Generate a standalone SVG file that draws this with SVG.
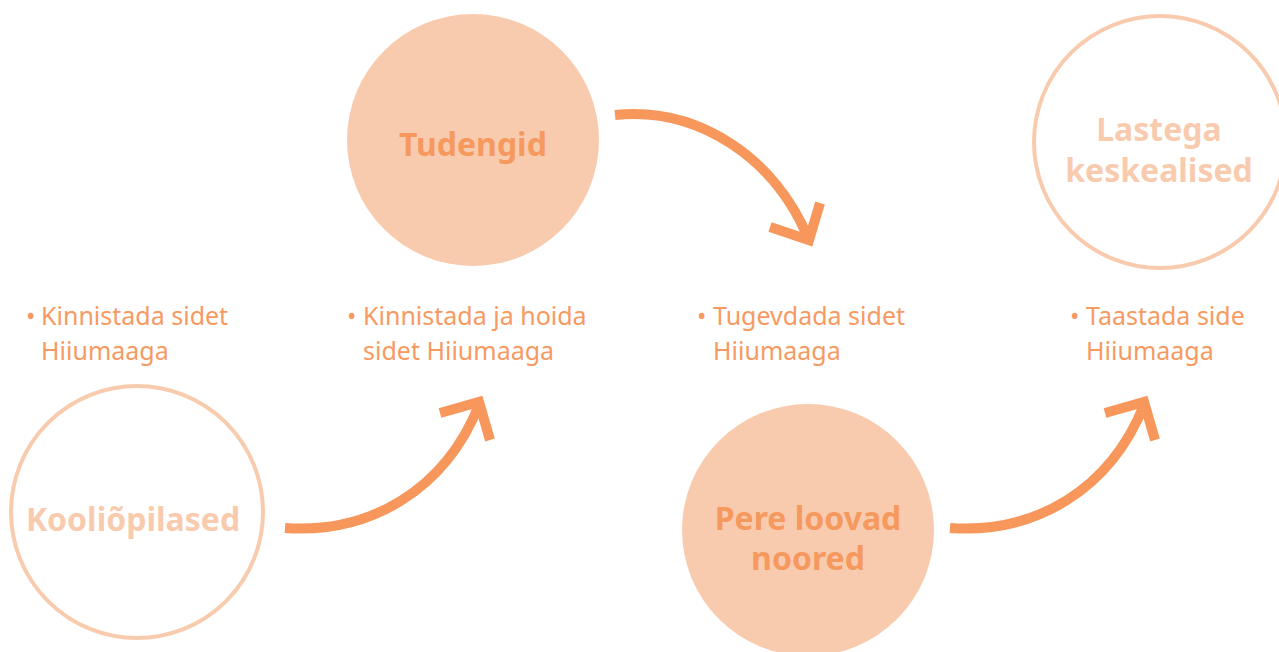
<svg xmlns="http://www.w3.org/2000/svg" width="1279" height="652" viewBox="0 0 1279 652">
<style>
.fill{fill:#F9CBAE}
.ring{fill:none;stroke:#F9CBAE;stroke-width:4}
.t{font-family:"Noto Sans","Open Sans",sans-serif;font-weight:700;font-size:32px;text-anchor:middle}
.dark{fill:#F5995F}
.light{fill:#F9CBAE}
.b{font-family:"Noto Sans","Open Sans",sans-serif;font-size:25px;fill:#F79A62}
.arr{fill:none;stroke:#F7975B;stroke-width:10}
</style>
<rect width="1279" height="652" fill="#fff"/>
<g id="koolipilased">
<circle class="ring" cx="137" cy="512" r="126"/>
<text class="t light" x="133" y="531">Kooliõpilased</text>
</g>
<g id="tudengid">
<circle class="fill" cx="473" cy="140" r="126"/>
<text class="t dark" x="473" y="156">Tudengid</text>
</g>
<g id="pere">
<circle class="fill" cx="808" cy="530" r="126"/>
<text class="t dark" x="808" y="530"><tspan x="808" y="530">Pere loovad</tspan><tspan x="808" y="570">noored</tspan></text>
</g>
<g id="lastega">
<circle class="ring" cx="1160" cy="142" r="126"/>
<text class="t light" x="1159" y="141"><tspan x="1159" y="141">Lastega</tspan><tspan x="1159" y="182">keskealised</tspan></text>
</g>
<g id="bullets">
<text class="b"><tspan x="26" y="325">•</tspan><tspan x="41" y="325">Kinnistada sidet</tspan><tspan x="41" y="359.5">Hiiumaaga</tspan></text>
<text class="b"><tspan x="347" y="325">•</tspan><tspan x="363" y="325">Kinnistada ja hoida</tspan><tspan x="363" y="359.5">sidet Hiiumaaga</tspan></text>
<text class="b"><tspan x="697" y="325">•</tspan><tspan x="713" y="325">Tugevdada sidet</tspan><tspan x="713" y="359.5">Hiiumaaga</tspan></text>
<text class="b"><tspan x="1070" y="325">•</tspan><tspan x="1086" y="325">Taastada side</tspan><tspan x="1086" y="359.5">Hiiumaaga</tspan></text>
</g>
<g id="connectors">
<path class="arr" d="M615,115 C700,106 776,160 808,238"/>
<path class="arr" d="M770,227 L809,240 L820,203"/>
<path class="arr" d="M285,528 C370,534 445,490 479,405"/>
<path class="arr" d="M440,413 L479,402 L490,440"/>
<path class="arr" d="M950,528 C1035,534 1110,490 1144,405"/>
<path class="arr" d="M1105,413 L1144,402 L1155,440"/>
</g>
</svg>
